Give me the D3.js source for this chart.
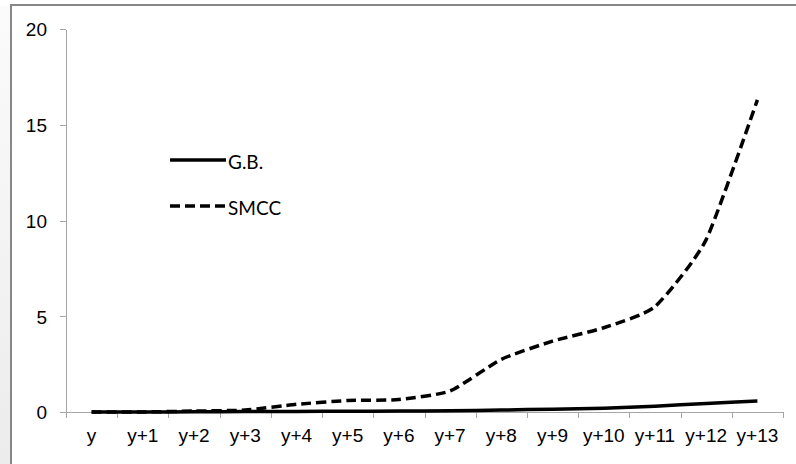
<!DOCTYPE html>
<html>
<head>
<meta charset="utf-8">
<script src="https://cdn.jsdelivr.net/npm/d3@7"></script>
<style>
  html, body { margin: 0; padding: 0; background: #fff; }
  svg { display: block; font-family: Lato, "Open Sans", sans-serif; }
  .axis path, .axis line { stroke: #a6a6a6; shape-rendering: crispEdges; }
  .axis text { fill: #000; font-size: 19px; }
  .legend text { font-size: 19px; fill: #000; }
</style>
</head>
<body>
<div id="chart"></div>
<script>
const categories = ['y', 'y+1', 'y+2', 'y+3', 'y+4', 'y+5', 'y+6', 'y+7', 'y+8', 'y+9', 'y+10', 'y+11', 'y+12', 'y+13'];
const gbValues   = [0, 0, 0.01, 0.02, 0.03, 0.04, 0.05, 0.06, 0.1, 0.15, 0.2, 0.3, 0.45, 0.57];
const smccValues = [0, 0, 0.05, 0.1, 0.4, 0.6, 0.65, 1.1, 2.75, 3.7, 4.4, 5.5, 9, 16.3];
const yTicks     = [0, 5, 10, 15, 20];

const series = [
  { name: 'G.B.', values: gbValues,   dash: null },
  { name: 'SMCC', values: smccValues, dash: '10,5' }
];

const W = 796, H = 464;
const plot = { left: 66, right: 783, top: 29, bottom: 412 };

const svg = d3.select('#chart').append('svg')
  .attr('width', W)
  .attr('height', H);

// frame: light strip on the left and the grey border line
const grad = svg.append('defs').append('linearGradient')
  .attr('id', 'strip').attr('x1', 0).attr('y1', 0).attr('x2', 0).attr('y2', 1);
grad.append('stop').attr('offset', '0%').attr('stop-color', '#fbfbfb');
grad.append('stop').attr('offset', '100%').attr('stop-color', '#ececec');
svg.append('rect').attr('x', 0).attr('y', 6).attr('width', 10).attr('height', H - 6).attr('fill', 'url(#strip)');
svg.append('path')
  .attr('d', `M11,${H} L11,5 L${W},5`)
  .attr('fill', 'none')
  .attr('stroke', '#878787')
  .attr('stroke-width', 2);

const x = d3.scaleBand().domain(categories).range([plot.left, plot.right]);
const xEdge = d3.scaleLinear().domain([0, categories.length]).range([plot.left, plot.right]);
const y = d3.scaleLinear().domain([0, 20]).range([plot.bottom, plot.top]);

// y axis
svg.append('g')
  .attr('class', 'axis y-axis')
  .attr('transform', `translate(${plot.left},0)`)
  .call(d3.axisLeft(y).tickValues(yTicks).tickSize(6).tickSizeOuter(0).tickPadding(13))
  .call(g => g.selectAll('text').attr('dy', '0.36em'));

// x axis: tick marks between categories, labels centred in each band
svg.append('g')
  .attr('class', 'axis x-ticks')
  .attr('transform', `translate(0,${plot.bottom})`)
  .call(d3.axisBottom(xEdge).tickValues(d3.range(categories.length + 1)).tickSize(6).tickSizeOuter(0).tickFormat(''));

svg.append('g')
  .attr('class', 'axis x-axis')
  .attr('transform', `translate(0,${plot.bottom})`)
  .call(d3.axisBottom(x).tickSize(0).tickPadding(17))
  .call(g => g.select('.domain').remove());

// lines
const line = d3.line()
  .x((d, i) => x(categories[i]) + x.bandwidth() / 2)
  .y(d => y(d))
  .curve(d3.curveCardinal.tension(0.45));

svg.selectAll('.series')
  .data(series)
  .enter().append('path')
    .attr('class', 'series')
    .attr('d', d => line(d.values))
    .attr('fill', 'none')
    .attr('stroke', '#000')
    .attr('stroke-width', 3.5)
    .attr('stroke-dasharray', d => d.dash);

// legend
const legend = svg.append('g').attr('class', 'legend');
const legendRows = legend.selectAll('g')
  .data(series)
  .enter().append('g')
    .attr('transform', (d, i) => `translate(170,${160 + i * 46})`);

legendRows.append('line')
  .attr('x1', 0).attr('x2', 56)
  .attr('y1', 0).attr('y2', 0)
  .attr('stroke', '#000')
  .attr('stroke-width', 3.5)
  .attr('stroke-dasharray', d => d.dash);

legendRows.append('text')
  .attr('x', 58)
  .attr('y', 2)
  .attr('dy', '0.35em')
  .text(d => d.name);
</script>
</body>
</html>
